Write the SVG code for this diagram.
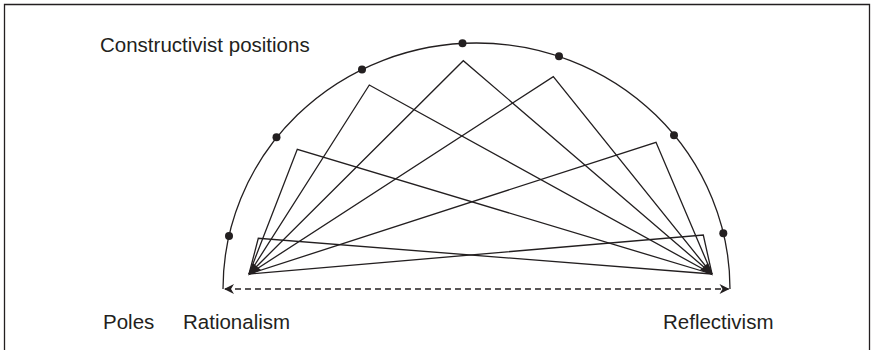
<svg xmlns="http://www.w3.org/2000/svg" width="872" height="350" viewBox="0 0 872 350">
<style>
.ln{fill:none;stroke:#231f20;stroke-width:1.3}
.dot{fill:#231f20}
.lbl{font-family:"Liberation Sans",Arial,sans-serif;font-size:20.5px;fill:#231f20}
</style>
<defs>
<marker id="ah" viewBox="0 0 10 10" refX="9" refY="5" markerWidth="12" markerHeight="10" markerUnits="userSpaceOnUse" orient="auto-start-reverse">
<path d="M0,0 L10,5 L0,10 L3,5 Z" fill="#231f20"/>
</marker>
</defs>
<rect width="872" height="350" fill="#fff"/>
<path class="ln" d="M4.5,350 V4.5 H869.5 V350" stroke-width="1.2"/>
<g id="arc">
<path class="ln" d="M223,289 A253.5,246 0 0 1 730,289"/>
<circle class="dot" cx="229" cy="236" r="4"/>
<circle class="dot" cx="276.5" cy="137.3" r="4"/>
<circle class="dot" cx="362" cy="69.4" r="4"/>
<circle class="dot" cx="462.5" cy="43.3" r="4"/>
<circle class="dot" cx="559" cy="56.3" r="4"/>
<circle class="dot" cx="674" cy="135.3" r="4"/>
<circle class="dot" cx="723.3" cy="233.2" r="4"/>
</g>
<g id="connectors">
<polyline class="ln" points="249,274 258.3,238.3 712,274"/>
<polyline class="ln" points="249,274 297.3,149.3 712,274"/>
<polyline class="ln" points="249,274 369.3,85 712,274"/>
<polyline class="ln" points="249,274 463.3,60.7 712,274"/>
<polyline class="ln" points="249,274 553.3,76.7 712,274"/>
<polyline class="ln" points="249,274 656,142.3 712,274"/>
<polyline class="ln" points="249,274 703.3,235 712,274"/>
<polygon points="248,275.5 253,263 261,270" fill="#231f20"/>
<polygon points="713,275.5 708,263 700,270" fill="#231f20"/>
<line class="ln" x1="225" y1="289" x2="728.5" y2="289" stroke-dasharray="6,4" marker-start="url(#ah)" marker-end="url(#ah)"/>
</g>
<g id="labels">
<text class="lbl" x="100" y="52">Constructivist positions</text>
<text class="lbl" x="103" y="329">Poles</text>
<text class="lbl" x="183" y="329">Rationalism</text>
<text class="lbl" x="663" y="329">Reflectivism</text>
</g>
</svg>
